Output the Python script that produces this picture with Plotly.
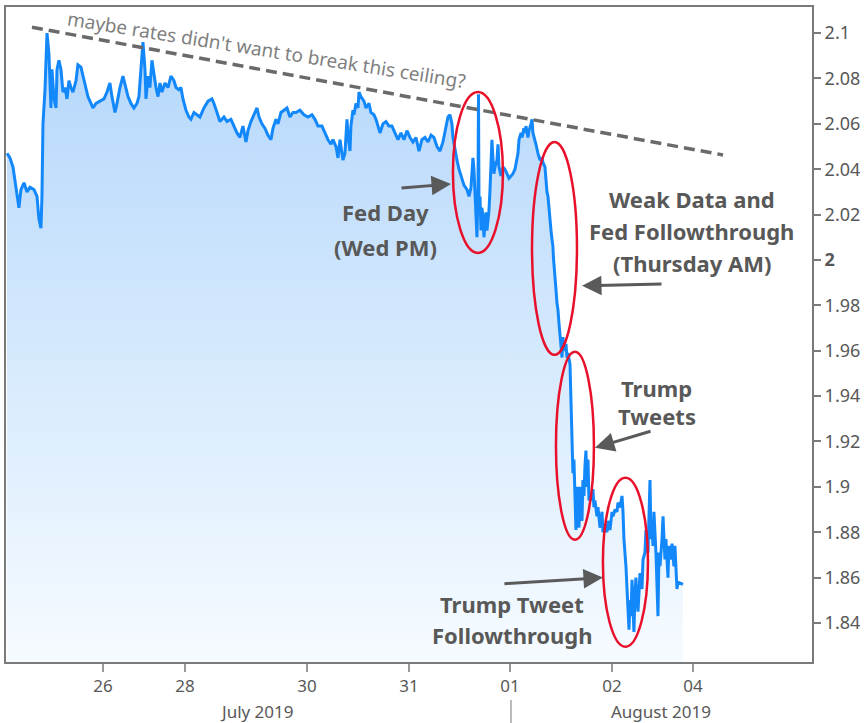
import plotly.graph_objects as go

# ---- data (x = trading-session days since 25 Jul 2019 00:00, y = 10yr yield %) ----
session_days = [
    0.050, 0.079, 0.109, 0.139, 0.168, 0.188, 0.218, 0.248, 0.277, 0.317, 0.347, 0.366,
    0.386, 0.396, 0.406, 0.426, 0.436, 0.446, 0.465, 0.475, 0.485, 0.495, 0.515, 0.535,
    0.545, 0.564, 0.584, 0.604, 0.624, 0.644, 0.663, 0.683, 0.703, 0.733, 0.752, 0.782,
    0.812, 0.832, 0.851, 0.881, 0.901, 0.931, 0.970, 1.010, 1.040, 1.069, 1.089, 1.119,
    1.139, 1.168, 1.198, 1.228, 1.248, 1.277, 1.307, 1.337, 1.356, 1.376, 1.396, 1.416,
    1.426, 1.446, 1.465, 1.485, 1.505, 1.525, 1.545, 1.564, 1.584, 1.614, 1.644, 1.673,
    1.703, 1.723, 1.752, 1.772, 1.792, 1.822, 1.851, 1.871, 1.901, 1.931, 1.960, 2.000,
    2.040, 2.079,
    2.099, 2.129, 2.158, 2.198, 2.228, 2.267, 2.297, 2.327, 2.356, 2.386, 2.416, 2.436,
    2.465, 2.505, 2.525, 2.545, 2.574, 2.604, 2.634, 2.663, 2.683, 2.713, 2.733, 2.762,
    2.792, 2.822, 2.851, 2.881, 2.911, 2.950, 2.990, 3.030, 3.069, 3.099, 3.129, 3.168,
    3.198, 3.228, 3.257, 3.277, 3.307, 3.327, 3.347, 3.366, 3.376, 3.396, 3.416, 3.426,
    3.446, 3.455, 3.475, 3.485, 3.505, 3.525, 3.535, 3.554, 3.584, 3.604, 3.634, 3.653,
    3.683, 3.703, 3.723, 3.743, 3.772, 3.802, 3.832, 3.861, 3.891, 3.921, 3.950, 3.980,
    4.010, 4.040, 4.069, 4.099, 4.129, 4.158, 4.188, 4.218, 4.248, 4.277, 4.307, 4.337,
    4.366, 4.396, 4.416, 4.436, 4.455, 4.465, 4.485, 4.505, 4.525, 4.554, 4.574, 4.604,
    4.624, 4.644, 4.663, 4.673, 4.683, 4.693, 4.703, 4.713, 4.718, 4.723, 4.733, 4.743,
    4.752, 4.762, 4.772, 4.782, 4.792, 4.802, 4.822, 4.832, 4.842, 4.851, 4.861, 4.871,
    4.881, 4.901, 4.911, 4.921, 4.941, 4.960, 4.980, 5.000, 5.020, 5.040, 5.059, 5.079,
    5.089, 5.109, 5.119, 5.139, 5.149, 5.168, 5.178, 5.188, 5.208, 5.218, 5.238, 5.248,
    5.257, 5.277, 5.287, 5.307, 5.327, 5.347, 5.356, 5.376, 5.386, 5.396, 5.406, 5.416,
    5.426, 5.436, 5.446, 5.455, 5.460, 5.465, 5.475, 5.485, 5.495, 5.505, 5.515, 5.525,
    5.535, 5.545, 5.554, 5.564, 5.584, 5.594, 5.604, 5.624,
    5.634, 5.644, 5.653, 5.663, 5.673, 5.683, 5.693, 5.703, 5.713, 5.723, 5.733, 5.743,
    5.752, 5.762, 5.772, 5.782, 5.792, 5.802, 5.812, 5.822, 5.842, 5.851, 5.861, 5.871,
    5.891, 5.901, 5.921, 5.941, 5.950, 5.970, 5.990, 6.000, 6.020, 6.040, 6.050, 6.069,
    6.089, 6.099, 6.119, 6.139, 6.149, 6.158, 6.178, 6.188, 6.198, 6.208, 6.218, 6.228,
    6.238, 6.248, 6.257, 6.267, 6.277, 6.287, 6.297, 6.307, 6.317, 6.337, 6.347, 6.366,
    6.376, 6.396, 6.416, 6.426, 6.436, 6.446, 6.455, 6.475, 6.495, 6.505, 6.515, 6.535,
    6.545, 6.564, 6.574, 6.594, 6.604, 6.624, 6.634, 6.653, 6.663, 6.683, 6.693, 6.743,
]

yield_10y = [
    2.047, 2.045, 2.041, 2.032, 2.023, 2.031, 2.034, 2.030, 2.032, 2.031, 2.028, 2.018,
    2.014, 2.028, 2.060, 2.075, 2.087, 2.100, 2.091, 2.076, 2.067, 2.084, 2.071, 2.067,
    2.084, 2.088, 2.084, 2.074, 2.076, 2.071, 2.079, 2.076, 2.074, 2.079, 2.086, 2.085,
    2.079, 2.075, 2.072, 2.069, 2.067, 2.069, 2.070, 2.071, 2.074, 2.078, 2.072, 2.065,
    2.069, 2.076, 2.081, 2.076, 2.072, 2.069, 2.067, 2.069, 2.072, 2.084, 2.096, 2.084,
    2.071, 2.081, 2.076, 2.088, 2.081, 2.076, 2.072, 2.078, 2.074, 2.078, 2.076, 2.081,
    2.079, 2.076, 2.075, 2.076, 2.071, 2.066, 2.063, 2.062, 2.065, 2.064, 2.063, 2.067,
    2.070, 2.071,
    2.069, 2.065, 2.061, 2.063, 2.061, 2.062, 2.059, 2.056, 2.054, 2.059, 2.052, 2.057,
    2.061, 2.065, 2.067, 2.063, 2.060, 2.058, 2.055, 2.053, 2.058, 2.062, 2.060, 2.065,
    2.066, 2.067, 2.063, 2.065, 2.065, 2.066, 2.064, 2.063, 2.064, 2.062, 2.059, 2.059,
    2.056, 2.053, 2.051, 2.053, 2.050, 2.045, 2.053, 2.048, 2.044, 2.047, 2.062, 2.055,
    2.048, 2.059, 2.066, 2.064, 2.069, 2.067, 2.074, 2.072, 2.070, 2.067, 2.069, 2.065,
    2.064, 2.062, 2.059, 2.056, 2.060, 2.061, 2.059, 2.059, 2.056, 2.053, 2.056, 2.053,
    2.057, 2.054, 2.052, 2.054, 2.048, 2.053, 2.054, 2.052, 2.055, 2.054, 2.050, 2.048,
    2.052, 2.058, 2.063, 2.064, 2.060, 2.054, 2.048, 2.044, 2.040, 2.036, 2.033, 2.031,
    2.028, 2.032, 2.045, 2.040, 2.028, 2.016, 2.010, 2.031, 2.073, 2.025, 2.028, 2.013,
    2.023, 2.019, 2.010, 2.016, 2.021, 2.013, 2.022, 2.031, 2.040, 2.053, 2.045, 2.038,
    2.041, 2.044, 2.051, 2.041, 2.037, 2.041, 2.040, 2.038, 2.036, 2.037, 2.038, 2.040,
    2.043, 2.047, 2.053, 2.056, 2.054, 2.058, 2.056, 2.059, 2.054, 2.057, 2.060, 2.062,
    2.056, 2.053, 2.051, 2.047, 2.044, 2.045, 2.043, 2.041, 2.034, 2.030, 2.028, 2.022,
    2.016, 2.013, 2.009, 2.006, 2.001, 1.997, 1.993, 1.987, 1.981, 1.978, 1.972, 1.968,
    1.962, 1.957, 1.966, 1.960, 1.963, 1.957, 1.959, 1.954,
    1.938, 1.915, 1.906, 1.912, 1.894, 1.881, 1.900, 1.891, 1.882, 1.900, 1.891, 1.885,
    1.903, 1.896, 1.909, 1.916, 1.900, 1.912, 1.894, 1.897, 1.894, 1.899, 1.891, 1.894,
    1.887, 1.891, 1.882, 1.889, 1.880, 1.882, 1.880, 1.885, 1.881, 1.889, 1.887, 1.890,
    1.889, 1.893, 1.891, 1.896, 1.889, 1.877, 1.865, 1.855, 1.850, 1.837, 1.850, 1.843,
    1.859, 1.850, 1.836, 1.853, 1.860, 1.850, 1.845, 1.853, 1.862, 1.855, 1.868, 1.871,
    1.881, 1.871, 1.903, 1.877, 1.882, 1.874, 1.889, 1.871, 1.843, 1.871, 1.865, 1.877,
    1.887, 1.868, 1.877, 1.860, 1.874, 1.868, 1.875, 1.865, 1.874, 1.855, 1.858, 1.857,
]

x_tick_pos = [1.0, 1.812, 3.02, 4.03, 5.03, 6.04, 6.842]
x_tick_labels = ["26", "28", "30", "31", "01", "02", "04"]
month_labels = ["July 2019", "August 2019"]
month_centers = [2.525, 6.525]
month_divider = 5.04

y_tick_vals = [1.84, 1.86, 1.88, 1.9, 1.92, 1.94, 1.96, 1.98, 2.0, 2.02, 2.04, 2.06, 2.08, 2.1]
y_tick_labels = ["1.84", "1.86", "1.88", "1.9", "1.92", "1.94", "1.96", "1.98", "<b>2</b>",
                 "2.02", "2.04", "2.06", "2.08", "2.1"]

Y_MIN, Y_MAX = 1.8228, 2.1115
X_MIN, X_MAX = 0.04, 8.02

TEXT_GRAY = "#585858"
AXIS_GRAY = "#7a7a7a"
RED = "#e8102a"
FONT = "Noto Sans"

fig = go.Figure()
fig.add_trace(go.Scatter(
    x=session_days, y=yield_10y, mode="lines",
    line=dict(color="#1388fb", width=3),
    fill="tozeroy",
    fillgradient=dict(type="vertical", start=Y_MIN, stop=2.09,
                      colorscale=[[0, "#f6fbff"], [1, "#b6d8fb"]]),
    hoverinfo="skip", showlegend=False,
))

shapes = []
# dashed "ceiling" line
shapes.append(dict(type="line", xref="x", yref="y", x0=0.297, y0=2.1026, x1=7.139, y1=2.0463,
                   line=dict(color="#6a6a6a", width=3.5, dash="11px,6px"), layer="above"))
# red ellipses
for (x0, x1, y0, y1) in [(4.465, 4.960, 2.0031, 2.074),
                          (5.248, 5.693, 1.9582, 2.052),
                          (5.485, 5.861, 1.8767, 1.9595),
                          (5.950, 6.396, 1.8295, 1.904)]:
    shapes.append(dict(type="circle", xref="x", yref="y", x0=x0, x1=x1, y0=y0, y1=y1,
                       line=dict(color=RED, width=2.5), layer="above"))
# month divider
shapes.append(dict(type="line", xref="x", yref="paper", x0=month_divider, x1=month_divider,
                   y0=-0.058, y1=-0.095, line=dict(color="#777", width=1)))

annotations = []
annotations.append(dict(x=2.624, y=2.0925, xref="x", yref="y",
                        text="maybe rates didn't want to break this ceiling?",
                        showarrow=False, textangle=9,
                        font=dict(family=FONT, size=19, color="#7f7f7f")))

def label(x, y, txt):
    annotations.append(dict(x=x, y=y, xref="x", yref="y", text=txt, showarrow=False,
                            xanchor="center", yanchor="middle",
                            font=dict(family=FONT, size=22, color=TEXT_GRAY, weight="bold")))

label(3.802, 2.0211, "Fed Day")
label(3.802, 2.0057, "(Wed PM)")
label(6.83, 2.0269, "Weak Data and")
label(6.83, 2.0128, "Fed Followthrough")
label(6.83, 1.9987, "(Thursday AM)")
label(6.485, 1.9436, "Trump")
label(6.485, 1.9313, "Tweets")
label(5.05, 1.8482, "Trump Tweet")
label(5.05, 1.8345, "Followthrough")

def arrow(x, y, ax, ay):
    annotations.append(dict(x=x, y=y, ax=ax, ay=ay, xref="x", yref="y", axref="x", ayref="y",
                            text="", showarrow=True, arrowhead=2, arrowsize=1.3,
                            arrowwidth=3, arrowcolor="#5a5a5a"))

arrow(4.446, 2.0335, 3.941, 2.0317)
arrow(5.743, 1.9886, 6.545, 1.9894)
arrow(5.871, 1.9172, 6.436, 1.9247)
arrow(5.950, 1.8600, 4.960, 1.8573)

for name, cx in zip(month_labels, month_centers):
    annotations.append(dict(x=cx, y=-0.075, xref="x", yref="paper", text=name,
                            showarrow=False, yanchor="middle",
                            font=dict(family=FONT, size=17, color=TEXT_GRAY)))

fig.update_layout(
    width=864, height=723,
    margin=dict(l=6, r=52, t=7, b=61, autoexpand=False),
    paper_bgcolor="white", plot_bgcolor="white",
    shapes=shapes, annotations=annotations,
    showlegend=False,
    xaxis=dict(range=[X_MIN, X_MAX], tickmode="array", tickvals=x_tick_pos,
               ticktext=x_tick_labels, ticks="outside", ticklen=8, tickwidth=2,
               tickcolor="#999", showline=True, linecolor=AXIS_GRAY, linewidth=2,
               mirror=True, showgrid=False, zeroline=False, automargin=False,
               tickfont=dict(family=FONT, size=17, color=TEXT_GRAY)),
    yaxis=dict(range=[Y_MIN, Y_MAX], side="right", tickmode="array", tickvals=y_tick_vals,
               ticktext=y_tick_labels, ticks="outside", ticklen=7, tickwidth=2,
               tickcolor=AXIS_GRAY, showline=True, linecolor=AXIS_GRAY, linewidth=2,
               mirror=True, showgrid=False, zeroline=False, automargin=False,
               tickfont=dict(family=FONT, size=18, color=TEXT_GRAY)),
)

fig.write_html(
    "out.html",
    config={"displayModeBar": False},
    post_script="document.body.style.margin='0px';document.body.style.overflow='hidden';",
)
